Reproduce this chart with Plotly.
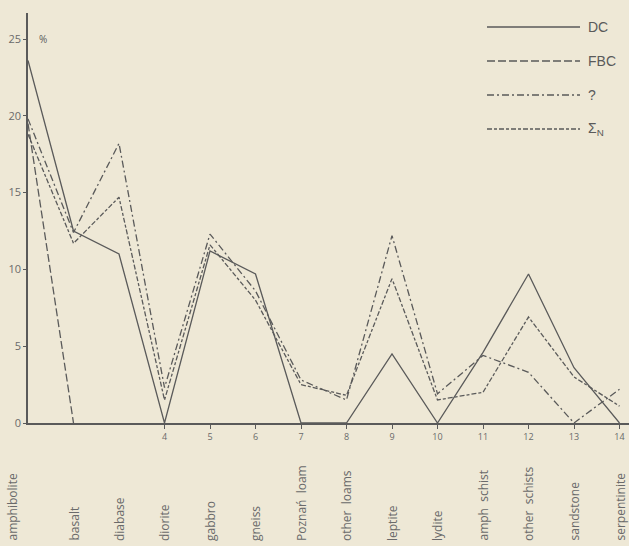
import plotly.graph_objects as go

positions = list(range(1, 15))
categories = ["amphibolite", "basalt", "diabase", "diorite", "gabbro", "gneiss",
              "Poznań  loam", "other  loams", "leptite", "lydite", "amph  schist",
              "other  schists", "sandstone", "serpentinite"]
dc = [23.6, 12.5, 11.0, 0, 11.2, 9.7, 0, 0, 4.5, 0, 4.6, 9.7, 3.6, 0]
fbc = [19.5, 0] + [None] * 12
qmark = [19.8, 12.4, 18.2, 2.3, 12.3, 8.6, 2.8, 1.5, 12.2, 1.9, 4.4, 3.3, 0, 2.2]
sigma_n = [18.8, 11.7, 14.7, 1.5, 11.6, 8.0, 2.5, 1.8, 9.4, 1.5, 2.0, 6.9, 3.0, 1.1]
x_tickvals = list(range(4, 15))
y_tickvals = [0, 5, 10, 15, 20, 25]

series_names = ["DC", "FBC", "?", "Σ<sub>N</sub>"]
series_vals = [dc, fbc, qmark, sigma_n]
dashes = ["solid", "8px,3px", "7px,3px,2px,3px", "5px,2px,3px,2px"]

INK = "#5a5a5a"
BG = "#eee8d6"
FONT = "Open Sans, Liberation Sans, sans-serif"

fig = go.Figure()
for name, vals, d in zip(series_names, series_vals, dashes):
    fig.add_trace(go.Scatter(x=positions, y=vals, mode="lines", name=name,
                             line=dict(color=INK, width=1.3, dash=d),
                             cliponaxis=False, connectgaps=False, showlegend=False))

# margins in pixels
L, R, T, B = 28, 0, 13, 123
W, H = 629, 546
pw, ph = W - L - R, H - T - B

def px(xp):
    return (xp - L) / pw

def py(yp):
    return (H - B - yp) / ph

shapes = []
annotations = []
legend_y = [27, 61, 95, 129]
for name, d, ly in zip(series_names, dashes, legend_y):
    shapes.append(dict(type="line", xref="paper", yref="paper",
                       x0=px(487), x1=px(580), y0=py(ly), y1=py(ly),
                       line=dict(color=INK, width=1.5, dash=d)))
    annotations.append(dict(x=px(586), y=py(ly), xref="paper", yref="paper",
                            text=name, showarrow=False, xanchor="left", yanchor="middle",
                            font=dict(size=14, color=INK, family="Liberation Sans, Arial")))

for i, (p, c) in enumerate(zip(positions, categories)):
    annotations.append(dict(x=p, y=py(543), xref="x", yref="paper", text=c,
                            textangle=-90, showarrow=False, xanchor="center", yanchor="bottom",
                            xshift=-16 if i == 0 else 0,
                            font=dict(size=12, color="#6a6a6a", family=FONT)))

annotations.append(dict(x=px(37), y=25, xref="paper", yref="y", text="%",
                        showarrow=False, xanchor="left", yanchor="middle",
                        font=dict(size=10, color=INK, family=FONT)))

fig.update_layout(
    width=W, height=H,
    margin=dict(l=L, r=R, t=T, b=B, pad=0),
    paper_bgcolor=BG, plot_bgcolor=BG,
    shapes=shapes, annotations=annotations,
    xaxis=dict(range=[1, 1 + pw / 45.5], showgrid=False, zeroline=False,
               showline=True, linecolor=INK, linewidth=1.5,
               tickvals=x_tickvals, ticktext=[str(v) for v in x_tickvals],
               ticks="outside", ticklen=4, tickcolor=INK,
               tickfont=dict(size=9, color="#6a6a6a", family=FONT)),
    yaxis=dict(range=[0, (H - B - T) / 15.36], showgrid=False, zeroline=False,
               showline=True, linecolor=INK, linewidth=1.5,
               tickvals=y_tickvals, ticks="outside", ticklen=3, tickcolor=INK,
               tickfont=dict(size=11, color="#6a6a6a", family=FONT)),
)

fig.write_html("out.html",
               config={"displayModeBar": False},
               post_script="document.body.style.margin='0';document.body.style.overflow='hidden';"
                           "document.body.style.background='" + BG + "';")
